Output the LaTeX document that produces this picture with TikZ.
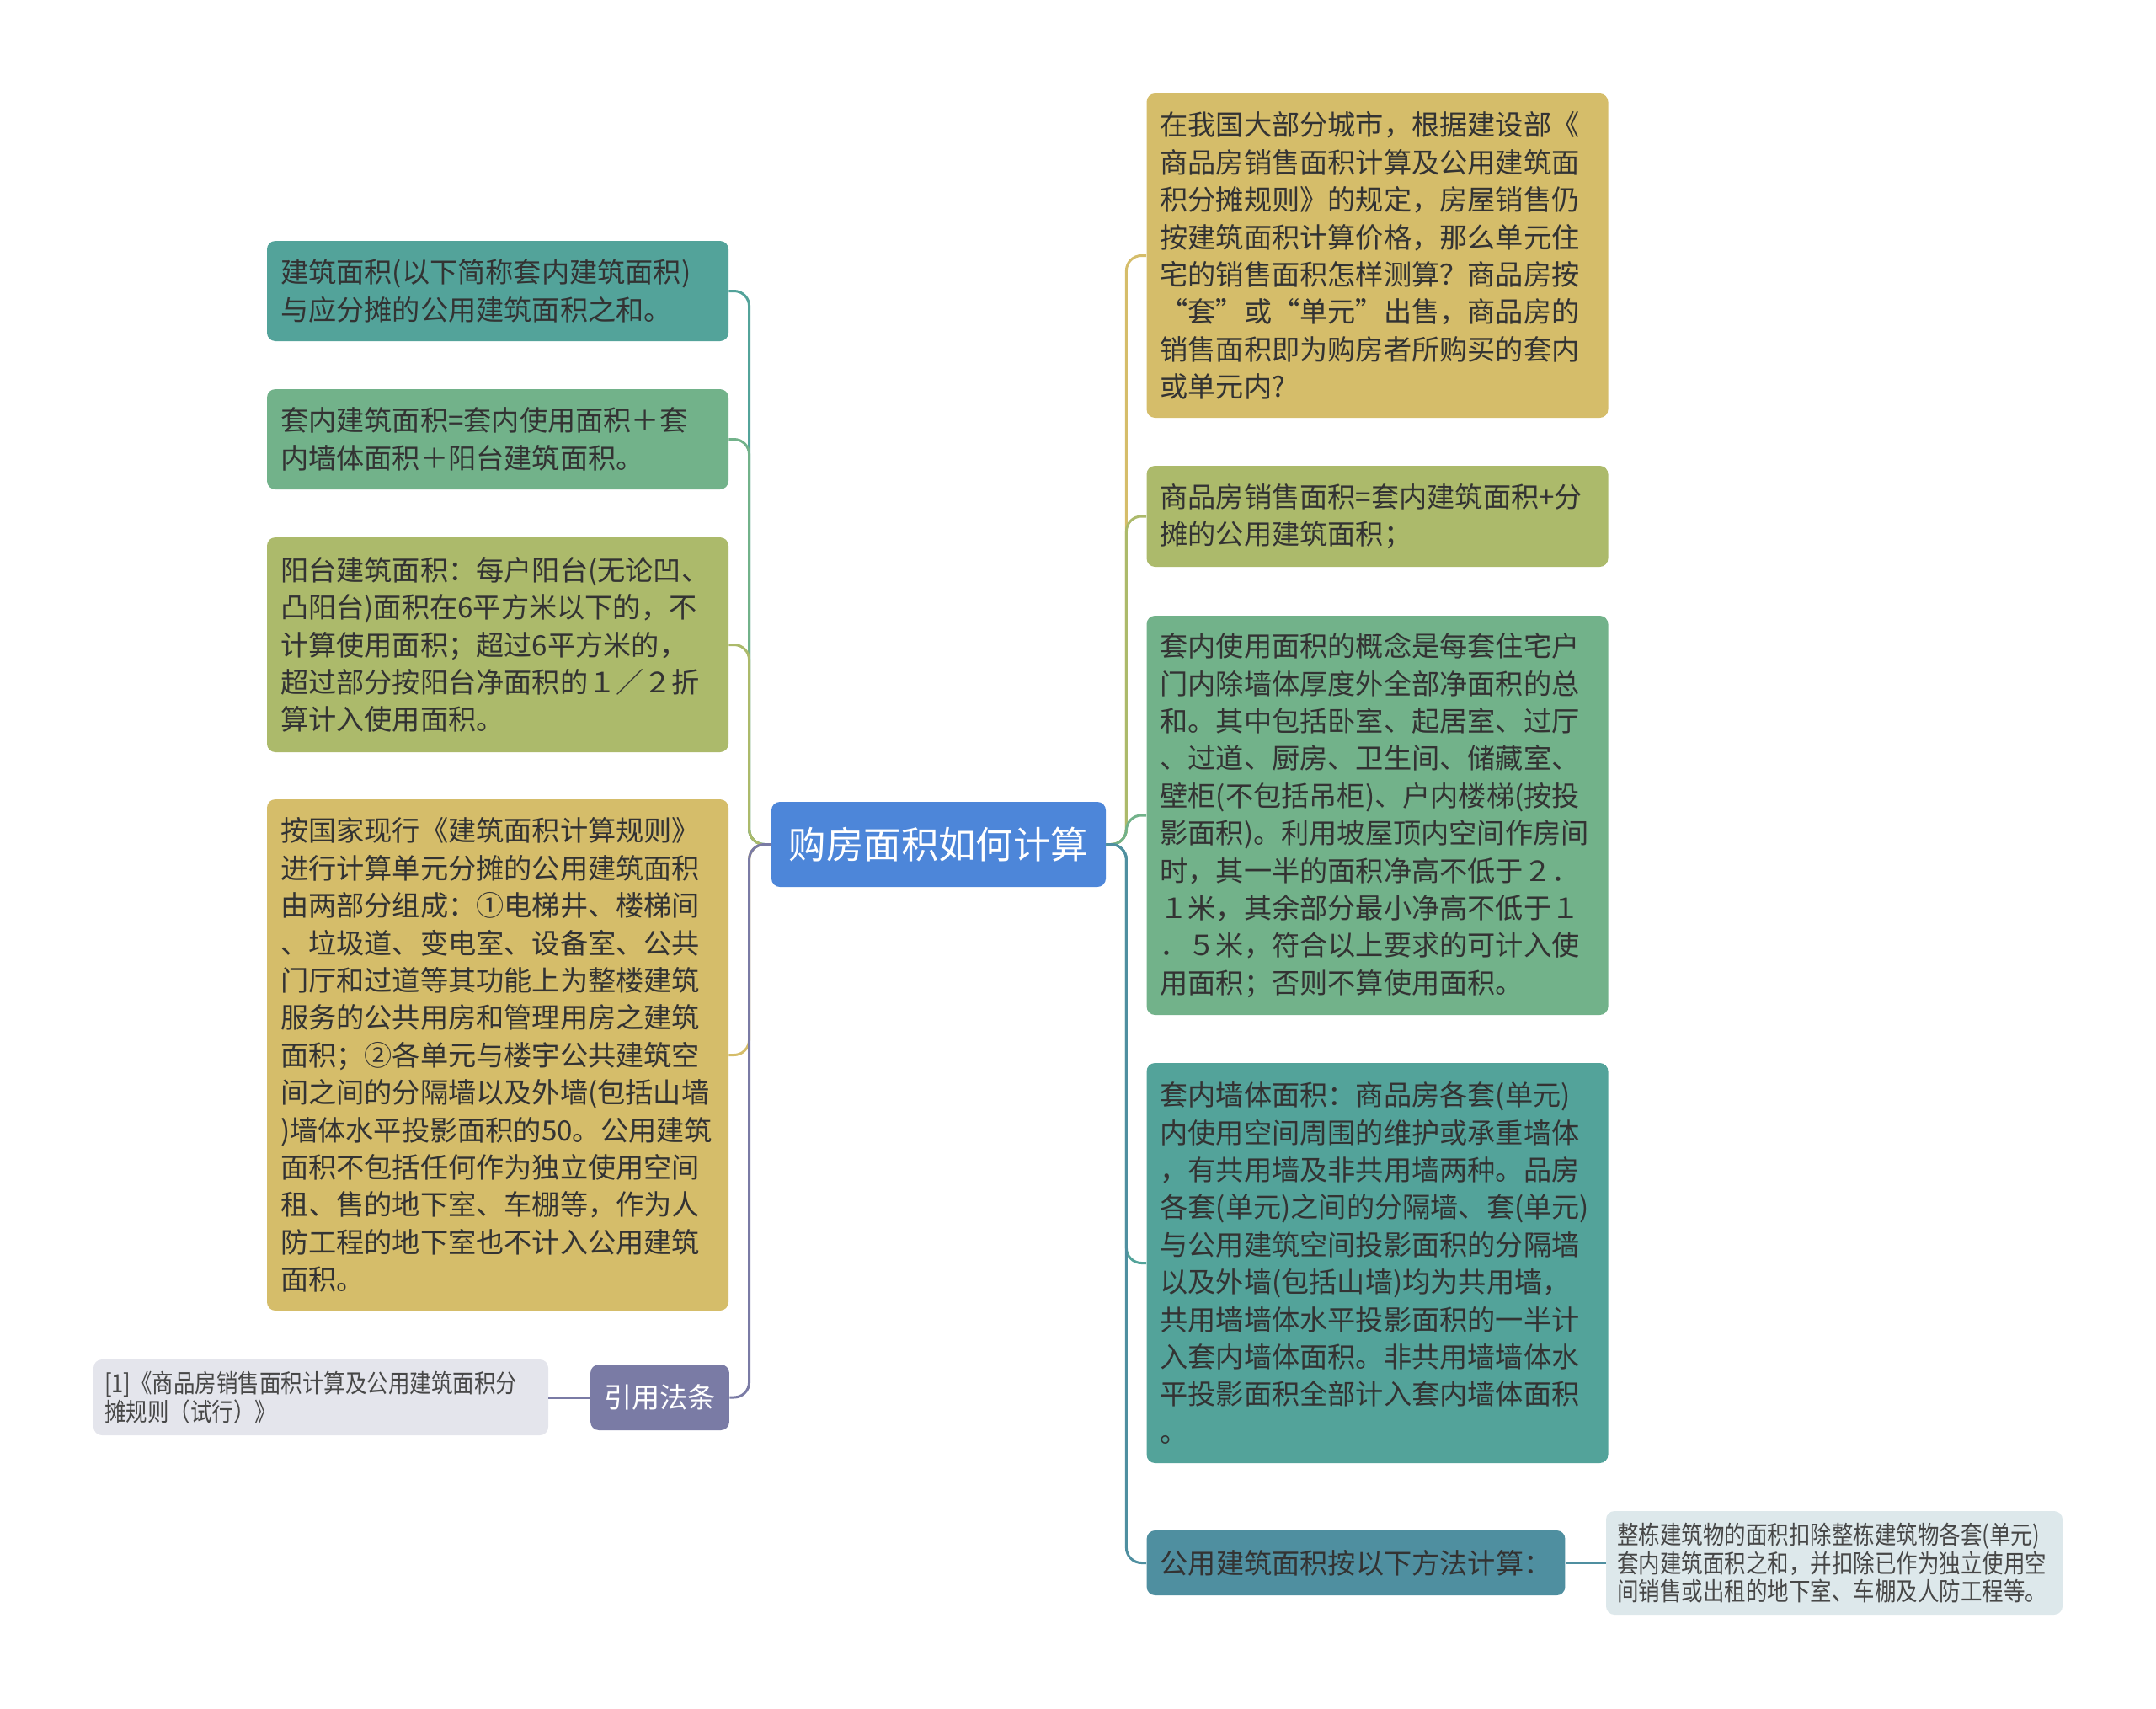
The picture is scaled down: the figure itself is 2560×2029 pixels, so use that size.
\documentclass[tikz,border=0pt]{standalone}
\usepackage{fontspec}
\setmainfont{Noto Sans CJK SC}
\newfontfamily\narrowfont[FakeStretch=0.85]{Noto Sans CJK SC}
\usepackage{xcolor}
\RequirePackage{tikz}

\definecolor{cRoot}{HTML}{4D86D9}
\definecolor{cTeal}{HTML}{53A39A}
\definecolor{cGreen}{HTML}{72B28A}
\definecolor{cOlive}{HTML}{ACBA6B}
\definecolor{cGold}{HTML}{D5BD6A}
\definecolor{cPurple}{HTML}{7A7BA5}
\definecolor{cSteel}{HTML}{4F8FA0}
\definecolor{cRefBg}{HTML}{E4E5EC}
\definecolor{cNoteBg}{HTML}{DDE8EB}
\definecolor{cInk}{HTML}{333333}

\newcommand{\mainsize}{\fontsize{16.6pt}{22.2pt}\selectfont}
\newcommand{\smallsize}{\narrowfont\fontsize{15pt}{16.8pt}\selectfont}

\begin{document}
\begin{tikzpicture}[x=0.5pt, y=-0.5pt,
		every node/.style={font=\mainsize, text=cInk},
		leaf/.style={rectangle, rounded corners=5pt, align=left, inner xsep=8pt, inner ysep=0pt, text width=258pt},
		tip/.style={rectangle, rounded corners=5pt, align=center, inner xsep=8pt, inner ysep=0pt},
		note/.style={rectangle, rounded corners=5pt, align=left, inner xsep=6.5pt, inner ysep=0pt, text width=257pt, font=\smallsize, text=cInk!90},
		link/.style={line width=1.5pt, rounded corners=9pt}]
			\useasboundingbox (0,0) rectangle (2560,2029);
			% centre
			\node[tip, fill=cRoot, text=white, font=\fontsize{22.2pt}{26pt}\selectfont, minimum width=198.5pt, minimum height=50.5pt] (root) at (1114.5,1002.5) {购房面积如何计算};
			% left side
			\node[leaf, fill=cTeal, minimum height=59.5pt] (l1) at (591,345.5) {建筑面积(以下简称套内建筑面积)\\与应分摊的公用建筑面积之和。};
			\node[leaf, fill=cGreen, minimum height=59.5pt] (l2) at (591,521.5) {套内建筑面积=套内使用面积＋套\\内墙体面积＋阳台建筑面积。};
			\node[leaf, fill=cOlive, minimum height=127.5pt] (l3) at (591,765.5) {阳台建筑面积：每户阳台(无论凹、\\凸阳台)面积在6平方米以下的，不\\计算使用面积；超过6平方米的，\\超过部分按阳台净面积的１／２折\\算计入使用面积。};
			\node[leaf, fill=cGold, minimum height=303.5pt] (l4) at (591,1252.5) {按国家现行《建筑面积计算规则》\\进行计算单元分摊的公用建筑面积\\由两部分组成：①电梯井、楼梯间\\、垃圾道、变电室、设备室、公共\\门厅和过道等其功能上为整楼建筑\\服务的公共用房和管理用房之建筑\\面积；②各单元与楼宇公共建筑空\\间之间的分隔墙以及外墙(包括山墙\\)墙体水平投影面积的50。公用建筑\\面积不包括任何作为独立使用空间\\租、售的地下室、车棚等，作为人\\防工程的地下室也不计入公用建筑\\面积。};
			\node[tip, fill=cPurple, text=white, minimum width=81.5pt, minimum height=39pt] (cite) at (783.5,1659) {引用法条};
			\node[note, fill=cRefBg, minimum height=45pt] (ref) at (381,1659) {[1]《商品房销售面积计算及公用建筑面积分\\摊规则（试行）》};
			% right side
			\node[leaf, fill=cGold, minimum height=192.5pt] (r1) at (1635.5,303.5) {在我国大部分城市，根据建设部《\\商品房销售面积计算及公用建筑面\\积分摊规则》的规定，房屋销售仍\\按建筑面积计算价格，那么单元住\\宅的销售面积怎样测算？商品房按\\“套”或“单元”出售，商品房的\\销售面积即为购房者所购买的套内\\或单元内?};
			\node[leaf, fill=cOlive, minimum height=60pt] (r2) at (1635.5,613) {商品房销售面积=套内建筑面积+分\\摊的公用建筑面积；};
			\node[leaf, fill=cGreen, minimum height=237pt] (r3) at (1635.5,968) {套内使用面积的概念是每套住宅户\\门内除墙体厚度外全部净面积的总\\和。其中包括卧室、起居室、过厅\\、过道、厨房、卫生间、储藏室、\\壁柜(不包括吊柜)、户内楼梯(按投\\影面积)。利用坡屋顶内空间作房间\\时，其一半的面积净高不低于２．\\１米，其余部分最小净高不低于１\\．５米，符合以上要求的可计入使\\用面积；否则不算使用面积。};
			\node[leaf, fill=cTeal, minimum height=237.5pt] (r4) at (1635.5,1499.5) {套内墙体面积：商品房各套(单元)\\内使用空间周围的维护或承重墙体\\，有共用墙及非共用墙两种。品房\\各套(单元)之间的分隔墙、套(单元)\\与公用建筑空间投影面积的分隔墙\\以及外墙(包括山墙)均为共用墙，\\共用墙墙体水平投影面积的一半计\\入套内墙体面积。非共用墙墙体水\\平投影面积全部计入套内墙体面积\\。};
			\node[tip, fill=cSteel, minimum width=248pt, minimum height=38.5pt] (r5) at (1610,1855.5) {公用建筑面积按以下方法计算：};
			\node[note, fill=cNoteBg, text width=258pt, minimum height=61.5pt] (r5c) at (2178,1855.5) {整栋建筑物的面积扣除整栋建筑物各套(单元)\\套内建筑面积之和，并扣除已作为独立使用空\\间销售或出租的地下室、车棚及人防工程等。};
			% connectors
			\draw[link, cTeal] (l1.east) -| ([xshift=-13pt]root.west) [sharp corners] -- (root.west);
			\draw[link, cGreen] (l2.east) -| ([xshift=-13pt]root.west) [sharp corners] -- (root.west);
			\draw[link, cOlive] (l3.east) -| ([xshift=-13pt]root.west) [sharp corners] -- (root.west);
			\draw[link, cGold] (l4.east) -| ([xshift=-13pt]root.west) [sharp corners] -- (root.west);
			\draw[link, cPurple] (cite.east) -| ([xshift=-13pt]root.west) [sharp corners] -- (root.west);
			\draw[link, cPurple] (cite.west) -- (ref.east);
			\draw[link, cGold] (r1.west) -| ([xshift=12pt]root.east) [sharp corners] -- (root.east);
			\draw[link, cOlive] (r2.west) -| ([xshift=12pt]root.east) [sharp corners] -- (root.east);
			\draw[link, cGreen] (r3.west) -| ([xshift=12pt]root.east) [sharp corners] -- (root.east);
			\draw[link, cTeal] (r4.west) -| ([xshift=12pt]root.east) [sharp corners] -- (root.east);
			\draw[link, cSteel] (r5.west) -| ([xshift=12pt]root.east) [sharp corners] -- (root.east);
			\draw[link, cSteel] (r5.east) -- (r5c.west);
		\end{tikzpicture}
\end{document}
